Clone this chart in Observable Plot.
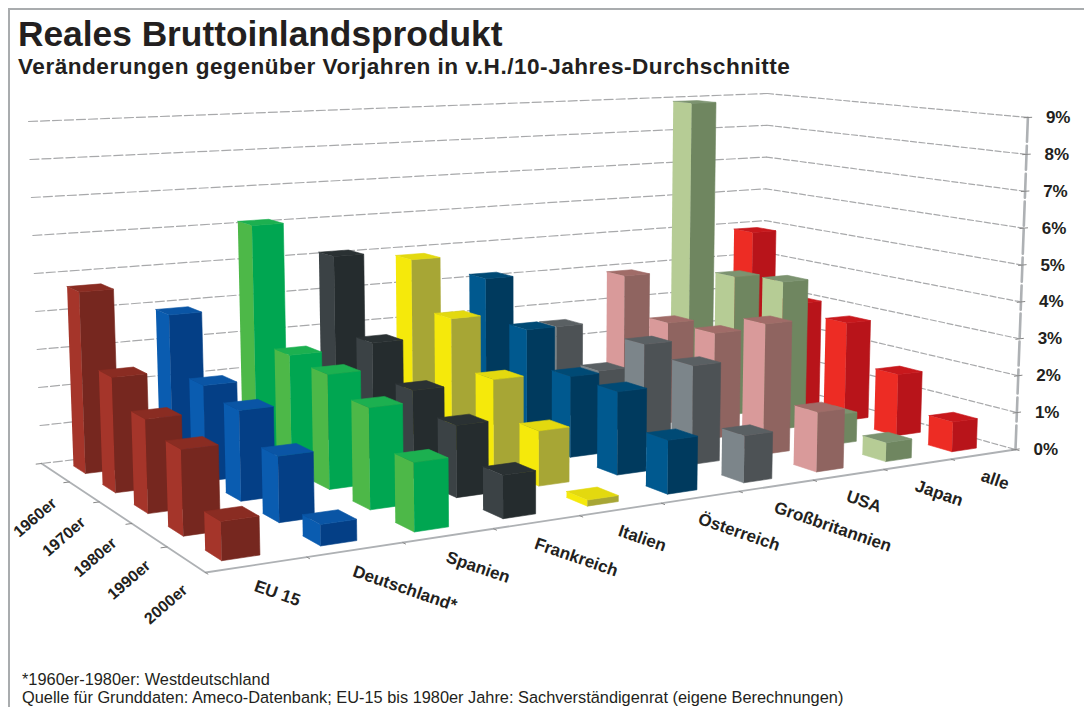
<!DOCTYPE html>
<html lang="de"><head><meta charset="utf-8">
<script src="https://cdn.jsdelivr.net/npm/d3@7"></script>
<script src="https://cdn.jsdelivr.net/npm/@observablehq/plot@0.6"></script>
<style>
html,body{margin:0;padding:0;background:#fff;overflow:hidden}
body{width:1084px;height:707px;position:relative;font-family:"Liberation Sans",Arial,sans-serif;color:#231f20}
#frame{position:absolute;left:8px;top:8px;right:0;bottom:0;border-left:2px solid #a9acae;border-top:2px solid #a9acae}
h1{position:absolute;left:18px;top:14px;margin:0;font-size:35.3px;line-height:40px;font-weight:700;white-space:nowrap}
h2{position:absolute;left:18px;top:54px;margin:0;font-size:22.6px;line-height:26px;font-weight:700;white-space:nowrap;letter-spacing:.5px}
#chart{position:absolute;left:0;top:88px}
#cap{position:absolute;left:22px;top:670px;font-size:16.35px;line-height:18px;white-space:nowrap}
</style></head><body>
<div id="frame"></div>
<h1>Reales Bruttoinlandsprodukt</h1>
<h2>Veränderungen gegenüber Vorjahren in v.H./10-Jahres-Durchschnitte</h2>
<div id="chart"></div>
<div id="cap">*1960er-1980er: Westdeutschland<br>Quelle für Grunddaten: Ameco-Datenbank; EU-15 bis 1980er Jahre: Sachverständigenrat (eigene Berechnungen)</div>
<script>
const categories = ["EU 15","Deutschland*","Spanien","Frankreich","Italien","Österreich","Großbritannien","USA","Japan","alle"];
const decades = ["1960er","1970er","1980er","1990er","2000er"];
const levels = [0,1,2,3,4,5,6,7,8,9];
const eu15 = [4.7,2.9,2.3,2.05,0.9];
const deutschland = [3.9,2.45,2.25,1.6,0.5];
const spanien = [6.1,3.0,2.9,2.5,1.65];
const frankreich = [5.1,3.1,2.25,1.8,1.05];
const italien = [4.85,3.55,2.3,1.4,0.15];
const oesterreich = [4.15,3.05,2.15,2.15,1.35];
const grossbritannien = [2.6,1.7,2.8,2.6,1.2];
const usa = [3.9,2.85,2.9,3.5,1.55];
const japan = [8.9,4.0,4.15,0.8,0.5];
const alle = [4.9,3.05,2.8,1.7,0.8];
const series = [eu15,deutschland,spanien,frankreich,italien,oesterreich,grossbritannien,usa,japan,alle];
const leftFaces  = ["#a5352a","#0a5cb0","#4db848","#3b4245","#f5e90b","#00598f","#7c858a","#d99a9a","#b6cc95","#ed2c24"];
const frontFaces = ["#76271f","#043f86","#00a651","#252c2e","#a7a635","#003a5e","#4d5255","#8f6460","#6f8660","#b8141a"];
const topFaces   = ["#8a2c22","#0a55a5","#1cb050","#2a3133","#e3d90f","#004a75","#5a6063","#a06c68","#7c9370","#c8181c"];
const barWidth = 0.38, barDepth = 0.42, barCentre = 0.46;

// Camera calibration of the 3D view: the floor plane, the 9% plane, the vertical vanishing point
function homography(A,B,C,D){
  const den=(C[0]-D[0])*(B[1]-D[1])-(B[0]-D[0])*(C[1]-D[1]);
  const sx=A[0]-C[0]+D[0]-B[0], sy=A[1]-C[1]+D[1]-B[1];
  const g=(sx*(B[1]-D[1])-(B[0]-D[0])*sy)/den, h=((C[0]-D[0])*sy-sx*(C[1]-D[1]))/den;
  const a=C[0]-A[0]+g*C[0], b=B[0]-A[0]+h*B[0], d=C[1]-A[1]+g*C[1], e=B[1]-A[1]+h*B[1];
  return (u,v)=>{const w=g*u+h*v+1;return [(a*u+b*v+A[0])/w,(d*u+e*v+A[1])/w];};
}
const floorPlane=homography([205,572],[41,463],[1015,449],[762,379]);
const topPlane=homography([195,176],[27.5,121],[1028,117],[757,93]);
const zMax=9, vanish=[532,13400];
function project(u,v,z=0){
  const p=floorPlane(u,v), q=topPlane(u,v);
  const y=p[1]+(z/zMax)*(q[1]-p[1]);
  return {x:p[0]+(vanish[0]-p[0])*(y-p[1])/(vanish[1]-p[1]), y};
}
const n=categories.length, m=decades.length;
const U=i=>i/n, V=j=>(m-j)/m;

const faces=[];
for(let j=0;j<m;j++) for(let i=n-1;i>=0;i--){
  const z=series[i][j];
  const u0=(i+barCentre-barWidth/2)/n,u1=(i+barCentre+barWidth/2)/n;
  const v0=(m-j-.5-barDepth/2)/m,v1=(m-j-.5+barDepth/2)/m;
  const poly=(k,pts,c)=>pts.forEach(p=>faces.push({id:`${i}-${j}-${k}`,color:c,...project(...p)}));
  poly("l",[[u0,v1,0],[u0,v0,0],[u0,v0,z],[u0,v1,z]],leftFaces[i]);
  poly("f",[[u0,v0,0],[u1,v0,0],[u1,v0,z],[u0,v0,z]],frontFaces[i]);
  poly("t",[[u0,v0,z],[u1,v0,z],[u1,v1,z],[u0,v1,z]],topFaces[i]);
}
const gridLeft=levels.flatMap(l=>[{l,...project(0,1,l)},{l,...project(1,1,l)}]);
const gridRight=levels.flatMap(l=>[{l,...project(1,1,l)},{l,...project(1,0,l)}]);
const floorLines=[[0,1],[0,0],[1,0]].map(([u,v])=>project(u,v));
const wallAxis=[project(1,0,0),project(1,0,9)];
const tickGap=0.006;
const wallTicks=levels.flatMap(l=>[{l,...project(1-tickGap,0,l)},{l,...project(1+tickGap,0,l)}]);
const catTicks=d3.range(n+1).flatMap(i=>[{i,...project(U(i),0)},{i,...project(U(i),-0.012)}]);
const decTicks=d3.range(m).flatMap(j=>[{j,...project(0,V(j))},{j,...project(-0.006,V(j))}]);
const catLabels=categories.map((t,i)=>({t,...project((i+.5)/n,0)}));
const decLabels=decades.map((t,j)=>({t,...project(0,(m-j-.5)/m)}));
const pctLabels=levels.map(l=>({t:l+"%",...project(1,0,l)}));

const gridGrey="#a8a9ab", axisGrey="#aeb1b4";
const plot=Plot.plot({
  width:1084,height:570,margin:0,style:{background:"transparent",overflow:"visible"},
  x:{domain:[0,1084],range:[0,1084],axis:null},
  y:{domain:[88,658],range:[0,570],axis:null},
  color:{type:"identity"},
  marks:[
    Plot.line(gridLeft,{x:"x",y:"y",z:"l",stroke:gridGrey,strokeWidth:1.2,strokeDasharray:"9 3"}),
    Plot.line(gridRight,{x:"x",y:"y",z:"l",stroke:gridGrey,strokeWidth:1.2,strokeDasharray:"6 2.5"}),
    Plot.line(floorLines,{x:"x",y:"y",stroke:axisGrey,strokeWidth:1.8}),
    Plot.line(catTicks,{x:"x",y:"y",z:"i",stroke:"#888",strokeWidth:1}),
    Plot.line(decTicks,{x:"x",y:"y",z:"j",stroke:"#888",strokeWidth:1}),
    Plot.line(wallAxis,{x:"x",y:"y",stroke:axisGrey,strokeWidth:2.6,strokeDasharray:"24 4"}),
    Plot.line(wallTicks,{x:"x",y:"y",z:"l",stroke:"#888",strokeWidth:1}),
    Plot.line(faces,{x:"x",y:"y",z:"id",fill:"color",stroke:"color",strokeWidth:.6,curve:"linear"}),
    Plot.text(catLabels,{x:"x",y:"y",text:"t",rotate:19,textAnchor:"start",dy:21,dx:-2,fontSize:17,fontWeight:700,fill:"#231f20",fontFamily:"Liberation Sans"}),
    Plot.text(decLabels,{x:"x",y:"y",text:"t",rotate:-41,dx:-20,dy:45,fontSize:16,fontWeight:700,fill:"#231f20",fontFamily:"Liberation Sans"}),
    Plot.text(pctLabels,{x:"x",y:"y",text:"t",textAnchor:"start",dx:18,fontSize:17,fontWeight:700,fill:"#231f20",fontFamily:"Liberation Sans"})
  ]
});
document.getElementById("chart").append(plot);
</script></body></html>
